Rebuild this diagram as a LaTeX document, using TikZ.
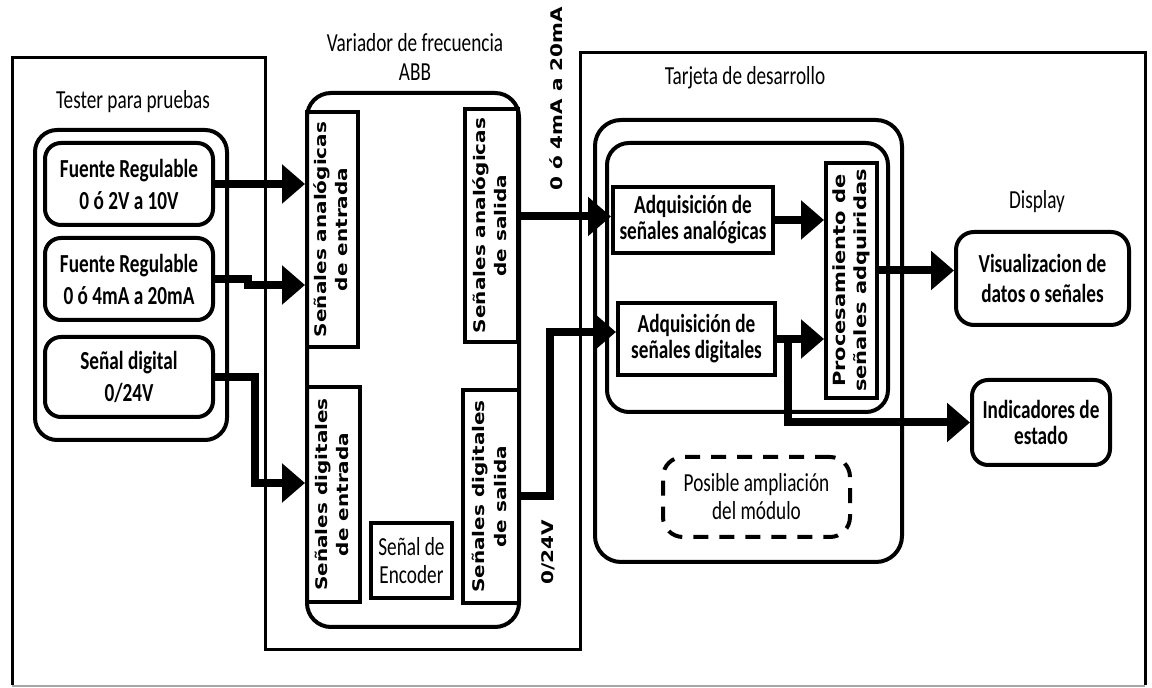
\documentclass[tikz,border=0pt]{standalone}
\usepackage{fontspec}
\setmainfont[FakeStretch=0.74]{Carlito}
\newfontfamily\vfont{DejaVu Sans}
\usetikzlibrary{arrows.meta}
\newcommand{\vlabel}[2][10]{\scalebox{0.8}[1]{\rotatebox{90}{\vfont\bfseries\fontsize{#1}{13.5}\selectfont\begin{tabular}{@{}c@{}}#2\end{tabular}}}}

\begin{document}
\begin{tikzpicture}[x=0.5pt,y=-0.5pt,
	box/.style={draw,line width=2pt,inner sep=0pt,align=center,font=\bfseries\fontsize{13}{14.5}\selectfont},
	rbox/.style={box,rounded corners=8pt},
	prueba/.style={rbox,minimum width=84pt,minimum height=41pt,font=\bfseries\fontsize{13}{16}\selectfont},
	grupo/.style={draw,line width=2pt,rounded corners=11pt,inner sep=0pt},
	titulo/.style={inner sep=0pt,align=center,font=\fontsize{13}{14.5}\selectfont},
	flecha/.style={line width=4pt,-{Triangle[length=11.5pt,width=19pt]}},
	marco/.style={line width=1.5pt}]
	\useasboundingbox (0,0) rectangle (1152,688);
	\draw[marco] (12,685) -- (12,58) -- (265,58) -- (265,650) -- (580,650) -- (580,53) -- (1145,53) -- (1145,685);
	\draw[line width=1pt,gray!70] (12,686) -- (1145,686);
	\node[titulo] (ttes) at (133,102) {Tester para pruebas};
	\node[grupo,minimum width=96pt,minimum height=155pt] (gtes) at (131,285) {};
	\node[prueba] (f1) at (129,184) {Fuente Regulable\\0 ó 2V a 10V};
	\node[prueba] (f2) at (129,279) {Fuente Regulable\\0 ó 4mA a 20mA};
	\node[prueba,minimum height=40pt] (sd) at (129,377) {Señal digital\\0/24V};
	\node[titulo] (tvar) at (415,57) {Variador de frecuencia\\ABB};
	\node[grupo,rounded corners=12pt,minimum width=106pt,minimum height=267pt] (var) at (413,360) {};
	\node[box,minimum width=25.5pt,minimum height=117.5pt] (ae) at (332.5,229.5) {\vlabel{Señales analógicas\\de entrada}};
	\node[box,minimum width=26.5pt,minimum height=107.5pt] (de) at (333.5,494.5) {\vlabel{Señales digitales\\de entrada}};
	\node[box,font=\fontsize{13}{14}\selectfont,minimum width=40.5pt,minimum height=37.5pt] (enc) at (411.5,560.5) {Señal de\\Encoder};
	\node[box,minimum width=26.5pt,minimum height=116.5pt] (as) at (491.5,225.5) {\vlabel{Señales analógicas\\de salida}};
	\node[box,minimum width=28pt,minimum height=106.5pt] (ds) at (491,496.5) {\vlabel{Señales digitales\\de salida}};
	\node[inner sep=0pt] (lan) at (558,99) {\vlabel{0 ó 4mA a 20mA}};
	\node[inner sep=0pt] (ldig) at (549,552) {\vlabel{0/24V}};
	\node[titulo] (ttar) at (745,78) {Tarjeta de desarrollo};
	\node[grupo,rounded corners=13pt,minimum width=153.5pt,minimum height=221pt] (tout) at (748.5,341) {};
	\node[grupo,minimum width=140.5pt,minimum height=134.5pt] (tin) at (747.5,277.5) {};
	\node[box,font=\bfseries\fontsize{13}{13}\selectfont,minimum width=80pt,minimum height=33pt] (aa) at (693,220) {Adquisición de\\señales analógicas};
	\node[box,font=\bfseries\fontsize{13}{13}\selectfont,minimum width=78.5pt,minimum height=36pt] (ad) at (696.5,339) {Adquisición de\\señales digitales};
	\node[box,minimum width=25.5pt,minimum height=117.5pt] (proc) at (851.5,280.5) {\vlabel[10.5]{Procesamiento de\\señales adquiridas}};
	\node[titulo] (tdis) at (1037,202) {Display};
	\node[rbox,rounded corners=9pt,font=\bfseries\fontsize{13}{15}\selectfont,minimum width=86.5pt,minimum height=46.5pt] (vis) at (1042.5,278.5) {Visualizacion de\\datos o señales};
	\node[rbox,font=\bfseries\fontsize{13}{13}\selectfont,minimum width=69pt,minimum height=42.5pt] (ind) at (1041,422.5) {Indicadores de\\estado};
	\node[titulo,draw,line width=2pt,dash pattern=on 7.5pt off 5.5pt,rounded corners=10pt,font=\fontsize{13}{14}\selectfont,minimum width=93.5pt,minimum height=40pt] (pos) at (756.5,497) {Posible ampliación\\del módulo};
	\coordinate (c2) at (248,285);
	\coordinate (c3) at (255,483);
	\coordinate (c5) at (550,332);
	\coordinate (c8) at (788,339);
	\draw[flecha] (f1.east) -- (f1.east -| ae.west);
	\draw[flecha] (f2.east) -| (c2) -- (c2 -| ae.west);
	\draw[flecha] (sd.east) -| (c3) -- (c3 -| de.west);
	\draw[flecha] ([yshift=4.5pt]as.east) -- ([yshift=4.5pt]as.east -| aa.west);
	\draw[flecha] (ds.east) -| (c5) -- (c5 -| ad.west);
	\draw[flecha] (aa.east) -- (aa.east -| proc.west);
	\draw[flecha] (ad.east) -- (ad.east -| proc.west);
	\draw[flecha] (c8) |- (ind.west);
	\draw[flecha] ([yshift=5pt]proc.east) -- ([yshift=5pt]proc.east -| vis.west);
\end{tikzpicture}
\end{document}
